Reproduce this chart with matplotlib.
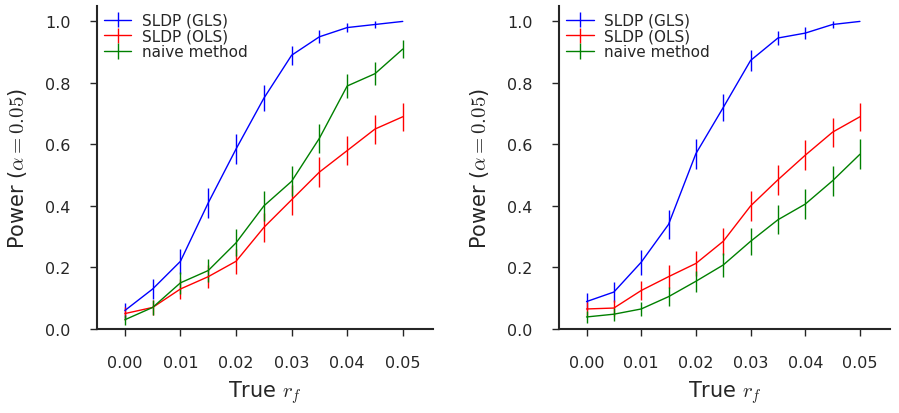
import matplotlib
matplotlib.use('Agg')
import matplotlib.pyplot as plt
import seaborn as sns

sns.set_style('ticks')
plt.rcParams['font.family'] = ['DejaVu Sans']
plt.rcParams['mathtext.fontset'] = 'cm'

rf = [0.0, 0.005, 0.01, 0.015, 0.02, 0.025, 0.03, 0.035, 0.04, 0.045, 0.05]

# left panel
gls_l = [0.06, 0.13, 0.22, 0.41, 0.585, 0.75, 0.89, 0.95, 0.98, 0.99, 1.0]
gls_l_err = [0.023, 0.033, 0.041, 0.048, 0.048, 0.042, 0.031, 0.021, 0.014, 0.010, 0.0]
ols_l = [0.05, 0.07, 0.13, 0.17, 0.22, 0.33, 0.42, 0.51, 0.58, 0.65, 0.69]
ols_l_err = [0.021, 0.025, 0.033, 0.037, 0.041, 0.046, 0.048, 0.049, 0.048, 0.047, 0.045]
naive_l = [0.03, 0.07, 0.15, 0.19, 0.28, 0.40, 0.48, 0.62, 0.79, 0.83, 0.91]
naive_l_err = [0.017, 0.025, 0.035, 0.038, 0.044, 0.048, 0.049, 0.048, 0.040, 0.037, 0.028]

# right panel
gls_r = [0.089, 0.12, 0.217, 0.34, 0.57, 0.72, 0.873, 0.946, 0.962, 0.99, 1.0]
gls_r_err = [0.028, 0.032, 0.040, 0.046, 0.049, 0.044, 0.033, 0.022, 0.019, 0.010, 0.0]
ols_r = [0.065, 0.068, 0.125, 0.17, 0.213, 0.285, 0.40, 0.485, 0.565, 0.64, 0.69]
ols_r_err = [0.024, 0.025, 0.032, 0.037, 0.040, 0.044, 0.048, 0.049, 0.049, 0.047, 0.045]
naive_r = [0.039, 0.048, 0.065, 0.105, 0.155, 0.208, 0.285, 0.355, 0.406, 0.482, 0.568]
naive_r_err = [0.019, 0.021, 0.024, 0.030, 0.035, 0.040, 0.044, 0.047, 0.048, 0.049, 0.049]

xticks = [0.0, 0.01, 0.02, 0.03, 0.04, 0.05]
yticks = [0.0, 0.2, 0.4, 0.6, 0.8, 1.0]

fig = plt.figure(figsize=(8.99, 4.14), dpi=100)
ax1 = fig.add_axes([0.108, 0.203, 0.374, 0.78])
ax2 = fig.add_axes([0.622, 0.203, 0.368, 0.78])

panels = [
    (ax1, gls_l, gls_l_err, ols_l, ols_l_err, naive_l, naive_l_err),
    (ax2, gls_r, gls_r_err, ols_r, ols_r_err, naive_r, naive_r_err),
]
for ax, g, ge, o, oe, n, ne in panels:
    ax.errorbar(rf, g, yerr=ge, color='b', lw=1, elinewidth=1, label='SLDP (GLS)')
    ax.errorbar(rf, o, yerr=oe, color='r', lw=1, elinewidth=1, label='SLDP (OLS)')
    ax.errorbar(rf, n, yerr=ne, color='g', lw=1, elinewidth=1, label='naive method')
    ax.set_xlim(-0.005, 0.0555)
    ax.set_ylim(0, 1.05)
    ax.set_xticks(xticks)
    ax.set_xticklabels(['%.2f' % t for t in xticks])
    ax.set_yticks(yticks)
    ax.set_yticklabels(['%.1f' % t for t in yticks])
    ax.tick_params(labelsize=11.5, length=5, width=1, colors='.15', pad=14)
    for s in ['left', 'bottom']:
        ax.spines[s].set_linewidth(1.5)
        ax.spines[s].set_color('.15')
    sns.despine(ax=ax)
    ax.set_xlabel('True $r_f$', fontsize=15, color='.15', labelpad=6)
    ax.set_ylabel(r'Power ($\alpha=0.05$)', fontsize=15, color='.15', labelpad=12)
    ax.legend(loc='upper left', frameon=False, fontsize=11, handlelength=1.8,
              handletextpad=0.7, borderaxespad=0.05, labelspacing=0.05)

plt.savefig('out.png', dpi=100)
